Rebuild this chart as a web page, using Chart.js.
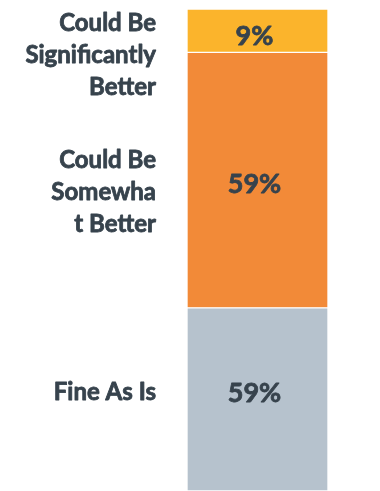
<!DOCTYPE html>
<html>
<head>
<meta charset="utf-8">
<script src="https://cdn.jsdelivr.net/npm/chart.js"></script>
<style>
  html, body { margin: 0; padding: 0; background: #fff; }
  #wrap { width: 380px; height: 491px; }
</style>
</head>
<body>
<div id="wrap"><canvas id="grafico"></canvas></div>
<script>
const categorias = ["Fine As Is", "Could Be Somewhat Better", "Could Be Significantly Better"];
const rotulos = [["Fine As Is"], ["Could Be", "Somewha", "t Better"], ["Could Be", "Significantly", "Better"]];
const valores = [38, 53, 9];
const valoresTexto = ["59%", "59%", "9%"];
const cores = ["#b6c2cd", "#f28a38", "#fbb42c"];

const corTexto = "#37434d";
// pequenos ajustes verticais dos textos (px)
const ajusteValor = [-6, 4, 6];
const ajusteRotulo = [-7, 12, 0];

// texto um pouco mais "pesado" (contorno fino da mesma cor)
function escreve(ctx, texto, x, y) {
  ctx.fillText(texto, x, y);
  ctx.strokeText(texto, x, y);
}

// desenha os rótulos à esquerda e os valores dentro de cada segmento
const rotulosPlugin = {
  id: "rotulos",
  afterDatasetsDraw(chart) {
    const ctx = chart.ctx;
    const topo = chart.chartArea.top;
    const alturaLinha = 32;
    ctx.save();
    ctx.fillStyle = corTexto;
    ctx.strokeStyle = corTexto;
    ctx.lineWidth = 0.8;
    ctx.lineJoin = "round";
    ctx.textBaseline = "middle";
    chart.data.datasets.forEach((ds, i) => {
      const el = chart.getDatasetMeta(i).data[0];
      const { x, y, base, width } = el.getProps(["x", "y", "base", "width"], true);
      const centro = (y + base) / 2;

      ctx.font = "bold 27px Lato";
      ctx.textAlign = "center";
      escreve(ctx, valoresTexto[i], x - 3, centro + ajusteValor[i]);

      const linhas = rotulos[i];
      const blocoAltura = linhas.length * alturaLinha;
      const meio = Math.max(centro + ajusteRotulo[i], topo + blocoAltura / 2 - 2);
      ctx.font = "bold 24px Lato";
      ctx.textAlign = "right";
      linhas.forEach((linha, j) => {
        const ly = meio - blocoAltura / 2 + alturaLinha * (j + 0.5);
        escreve(ctx, linha, x - width / 2 - 31, ly);
      });
    });
    ctx.restore();
  },
};

new Chart(document.getElementById("grafico"), {
  type: "bar",
  data: {
    labels: [""],
    datasets: categorias.map((nome, i) => ({
      label: nome,
      data: [valores[i]],
      backgroundColor: cores[i],
      borderColor: "#ffffff",
      borderWidth: 1,
      borderSkipped: false,
      barPercentage: 1,
      categoryPercentage: 1,
    })),
  },
  options: {
    responsive: true,
    maintainAspectRatio: false,
    animation: false,
    layout: { padding: { top: 9, left: 187, right: 52, bottom: 0 } },
    plugins: { legend: { display: false }, tooltip: { enabled: false } },
    scales: {
      x: { stacked: true, display: false },
      y: { stacked: true, display: false, min: 0, max: 100 },
    },
  },
  plugins: [rotulosPlugin],
});
</script>
</body>
</html>
